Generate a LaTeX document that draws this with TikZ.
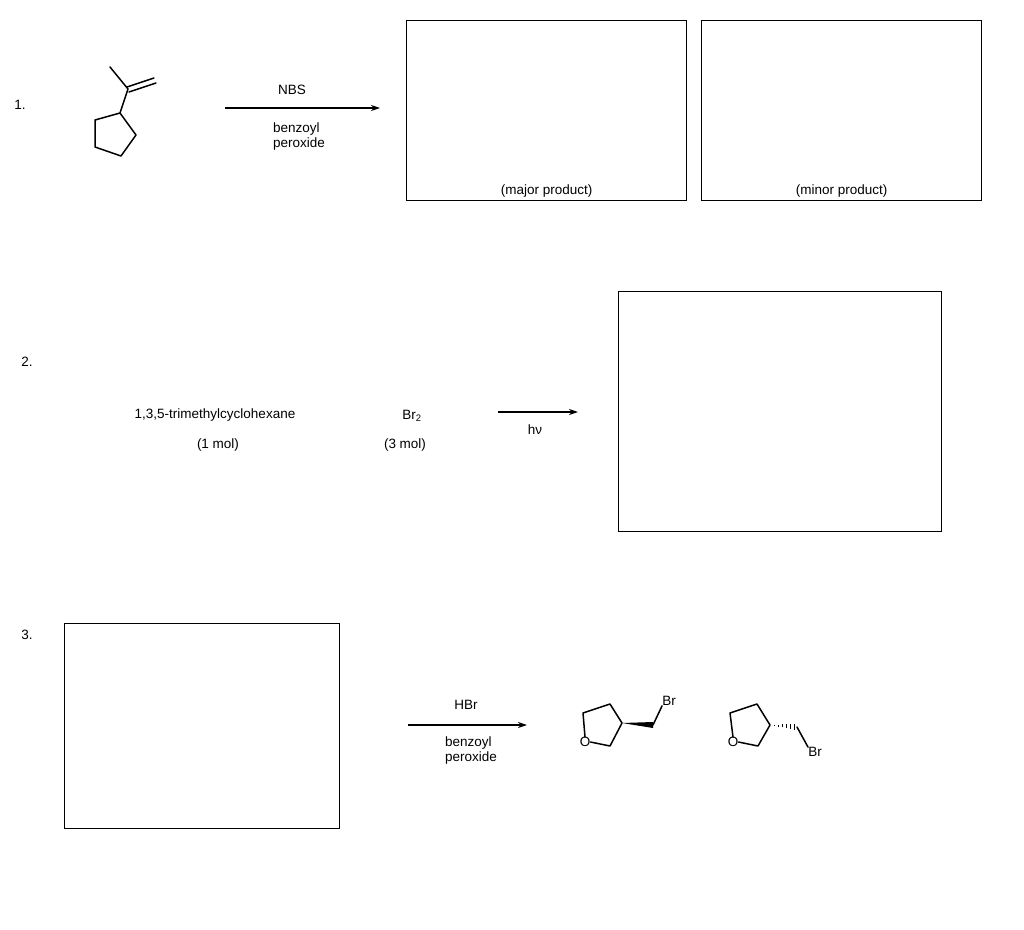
\documentclass[tikz,border=0pt]{standalone}
\usepackage{fontspec}
\setmainfont{Liberation Sans}
\usetikzlibrary{arrows.meta,calc}
\begin{document}
\begin{tikzpicture}[x=1pt,y=-1pt,
  box/.style={draw,line width=1.3pt},
  bond/.style={line width=1.5pt,line cap=round,line join=round},
  arr/.style={line width=1.1pt,-{Stealth[length=9pt,width=6pt]}},
  lbl/.style={font=\fontsize{13.5}{15}\selectfont,inner sep=0pt}]
\useasboundingbox (0,0) rectangle (1024,929);
% 1
\node[lbl] (n1) at (20,105) {1.};
\coordinate (a1) at (110,67); \coordinate (a2) at (128,89);
\coordinate (r1) at (120,113); \coordinate (r2) at (136,135); \coordinate (r3) at (121,156);
\coordinate (r4) at (95,147); \coordinate (r5) at (95,120);
\draw[bond] (a1)--(a2)--(r1);
\draw[bond] (r1)--(r2)--(r3)--(r4)--(r5)--cycle;
\draw[bond] (127,87)--(154,78); \draw[bond] (129,92)--(156,83);
\coordinate (s1) at (225,108); \coordinate (e1) at (380,108);
\draw[arr] (s1)--(e1);
\node[lbl] (nbs) at (292,90) {NBS};
\node[lbl,align=left] (bp1) at (299,137) {benzoyl\\peroxide};
\node[box,minimum width=280,minimum height=180,anchor=north west] (b1) at (406,20) {};
\node[box,minimum width=280,minimum height=180,anchor=north west] (b2) at (701,20) {};
\node[lbl,anchor=south] (maj) at ([yshift=4]b1.south) {(major product)};
\node[lbl,anchor=south] (min) at ([yshift=4]b2.south) {(minor product)};
% 2
\node[lbl] (n2) at (27,362) {2.};
\node[lbl] (tm) at (215,415) {1,3,5-trimethylcyclohexane};
\node[lbl] (m1) at (218,445) {(1 mol)};
\node[lbl] (br2) at (412,416) {Br\textsubscript{2}};
\node[lbl] (m3) at (405,445) {(3 mol)};
\coordinate (s2) at (498,412); \coordinate (e2) at (578,412);
\draw[arr] (s2)--(e2);
\node[lbl] (hv) at (535,430) {hν};
\node[box,minimum width=323,minimum height=240,anchor=north west] (b3) at (618,291) {};
% 3
\node[lbl] (n3) at (27,635) {3.};
\node[box,minimum width=275,minimum height=205,anchor=north west] (b4) at (64,623) {};
\node[lbl] (hbr) at (466,705) {HBr};
\coordinate (s3) at (408,725); \coordinate (e3) at (527,725);
\draw[arr] (s3)--(e3);
\node[lbl,align=left] (bp2) at (471,750) {benzoyl\\peroxide};
% molecule A
\node[lbl] (oa) at (585,742) {O};
\coordinate (p1) at (583,713); \coordinate (p2) at (610,704); \coordinate (p3) at (622,723); \coordinate (p4) at (610,746);
\draw[bond] (oa.north)--(p1)--(p2)--(p3)--(p4)--(oa.east);
\coordinate (c1) at (653,725);
\fill (p3) -- ([yshift=-3]c1) -- ([yshift=3]c1) -- cycle;
\node[lbl] (bra) at (669,701) {Br};
\draw[bond] (c1)--(bra.south west);
% molecule B
\node[lbl] (ob) at (733,742) {O};
\coordinate (q1) at (730,713); \coordinate (q2) at (757,704); \coordinate (q3) at (770,725); \coordinate (q4) at (758,746);
\draw[bond] (ob.north)--(q1)--(q2)--(q3)--(q4)--(ob.east);
\coordinate (c2) at (797,727);
\foreach \t in {0.15,0.3,0.45,0.6,0.75,0.9}{
  \draw[line width=1.1pt] ($(q3)!\t!(c2)+(0,-3.2*\t)$)--($(q3)!\t!(c2)+(0,3.2*\t)$);}
\node[lbl] (brb) at (815,752) {Br};
\draw[bond] (c2)--(brb.north west);
\end{tikzpicture}
\end{document}
